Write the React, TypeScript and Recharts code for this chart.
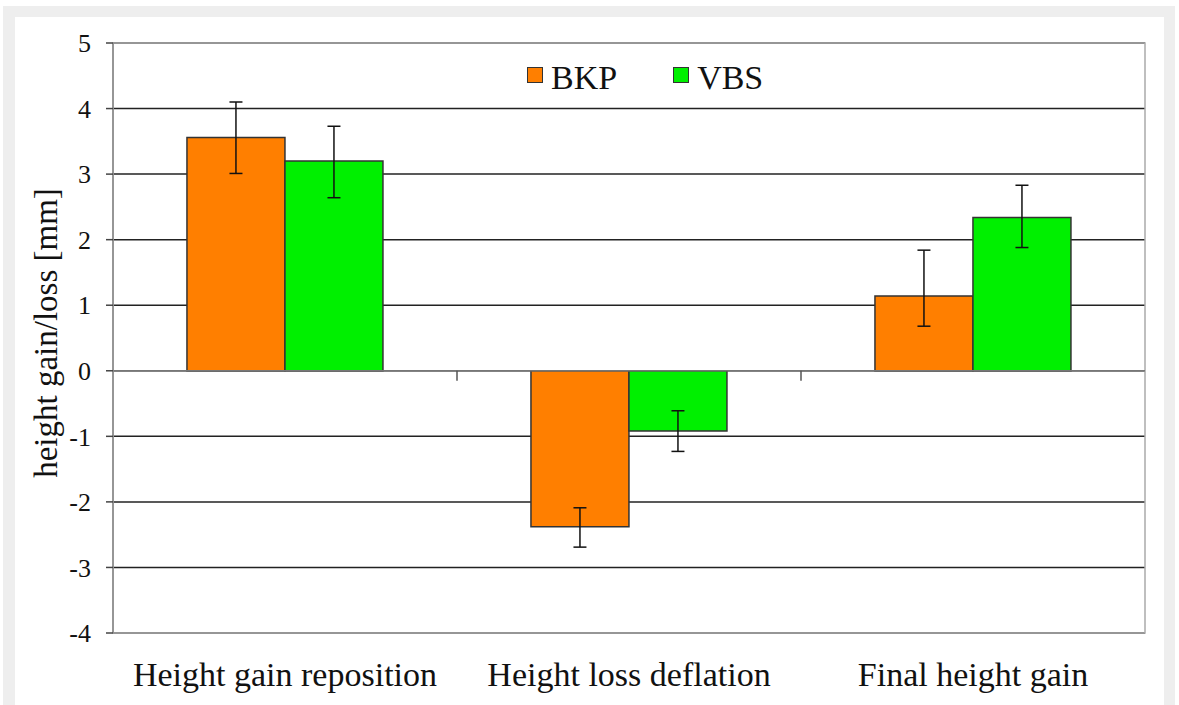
import {
  Bar,
  BarChart,
  CartesianGrid,
  ErrorBar,
  ReferenceArea,
  ReferenceLine,
  XAxis,
  YAxis,
} from "recharts";

const categories = ["Height gain reposition", "Height loss deflation", "Final height gain"];
const bkpValues = [3.56, -2.38, 1.14];
const vbsValues = [3.2, -0.92, 2.34];
// [below, above] the bar value
const bkpErrors = [[0.55, 0.54], [0.31, 0.29], [0.46, 0.7]];
const vbsErrors = [[0.56, 0.53], [0.31, 0.31], [0.46, 0.49]];
const yTicks = [-4, -3, -2, -1, 0, 1, 2, 3, 4, 5];

const series = [
  { key: "bkp", name: "BKP", color: "#ff7f00" },
  { key: "vbs", name: "VBS", color: "#00f000" },
];

const data = categories.map((name, i) => ({
  name,
  bkp: bkpValues[i],
  vbs: vbsValues[i],
  bkpErr: bkpErrors[i],
  vbsErr: vbsErrors[i],
}));

const FONT = "Liberation Serif, DejaVu Serif, Noto Serif, serif";

function CategoryTick({ x, y, payload }: any) {
  return (
    <text x={x} y={y + 53} textAnchor="middle" fontSize={34} fontFamily={FONT} fill="#111">
      {payload.value}
    </text>
  );
}

// zero line with small tick marks between the categories
function ZeroLine({ x1, y1, x2, y2 }: any) {
  const step = (x2 - x1) / categories.length;
  const marks = categories.slice(1).map((_, i) => x1 + step * (i + 1));
  return (
    <g>
      <line x1={x1} y1={y1} x2={x2} y2={y2} stroke="#777" strokeWidth={1.5} />
      {marks.map((mx) => (
        <line key={mx} x1={mx} y1={y1} x2={mx} y2={y1 + 10} stroke="#555" strokeWidth={1.5} />
      ))}
    </g>
  );
}

function YLabel({ viewBox }: any) {
  const cx = viewBox.x + 46;
  const cy = viewBox.y + viewBox.height / 2 - 5;
  return (
    <text
      x={cx}
      y={cy}
      transform={`rotate(-90 ${cx} ${cy})`}
      textAnchor="middle"
      dominantBaseline="central"
      fontSize={33}
      fontFamily={FONT}
      fill="#111"
    >
      height gain/loss [mm]
    </text>
  );
}

export default function App() {
  return (
    <div style={{ position: "absolute", left: 0, top: 0, width: 1179, height: 705, background: "#fff", overflow: "hidden" }}>
      <div style={{ position: "absolute", left: 3, top: 6, width: 1172, height: 710, background: "#eeeeee" }} />
      <div style={{ position: "absolute", left: 15, top: 17, width: 1149, height: 700, background: "#fff" }} />
      <div style={{ position: "absolute", left: 0, top: 0 }}>
        <BarChart
          width={1179}
          height={705}
          data={data}
          margin={{ top: 43, right: 34, bottom: 0, left: 0 }}
          barCategoryGap="21.5%"
          barGap={0}
        >
          <CartesianGrid vertical={false} stroke="#222" strokeWidth={1.5} />
          <ReferenceArea y1={-4} y2={5} fill="none" stroke="#aaa" strokeWidth={1.5} />
          <XAxis
            dataKey="name"
            height={72}
            axisLine={false}
            tickLine={false}
            tickSize={0}
            tickMargin={0}
            tick={<CategoryTick />}
          />
          <YAxis
            width={113}
            domain={[-4, 5]}
            ticks={yTicks}
            interval={0}
            axisLine={{ stroke: "#888", strokeWidth: 1.5 }}
            tickLine={{ stroke: "#444", strokeWidth: 1.5 }}
            tickSize={7}
            tickMargin={15}
            tick={{ fontSize: 26, fontFamily: FONT, fill: "#111" }}
            label={{ content: (props: any) => <YLabel {...props} /> }}
          />
          <ReferenceLine y={0} shape={(props: any) => <ZeroLine {...props} />} />
          {series.map((s) => (
            <Bar
              key={s.key}
              dataKey={s.key}
              name={s.name}
              fill={s.color}
              stroke="#333"
              strokeWidth={1.5}
              isAnimationActive={false}
            >
              <ErrorBar
                dataKey={`${s.key}Err`}
                direction="y"
                width={6.5}
                stroke="#111"
                strokeWidth={1.5}
                isAnimationActive={false}
              />
            </Bar>
          ))}
        </BarChart>
      </div>
      <div
        style={{
          position: "absolute",
          left: 527,
          top: 58,
          display: "flex",
          alignItems: "flex-start",
          fontFamily: FONT,
          fontSize: 34,
          color: "#111",
          lineHeight: "40px",
        }}
      >
        {series.map((s, i) => (
          <div key={s.key} style={{ display: "flex", alignItems: "flex-start", marginLeft: i === 0 ? 0 : 56 }}>
            <div
              style={{
                width: 14,
                height: 14,
                marginTop: 9,
                marginRight: 8,
                background: s.color,
                border: "1.5px solid #333",
              }}
            />
            <span>{s.name}</span>
          </div>
        ))}
      </div>
    </div>
  );
}
